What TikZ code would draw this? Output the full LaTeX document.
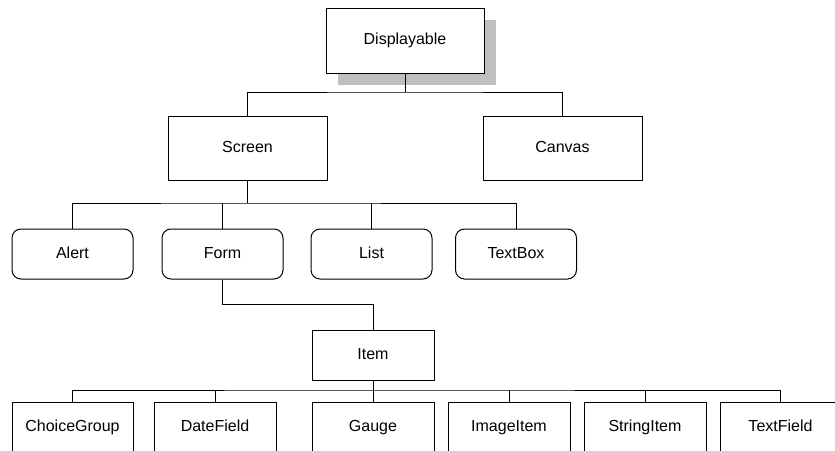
\documentclass[tikz,border=0pt]{standalone}
\usepackage{fontspec}
\setmainfont{Liberation Sans}
\usetikzlibrary{shadows}
\begin{document}
\begin{tikzpicture}[x=1pt,y=-1pt,
  every node/.style={font=\fontsize{16}{19}\selectfont,text height=11.5pt,text depth=3.5pt},
  sqbox/.style={draw,fill=white,line width=1pt,minimum width=#1,inner sep=0pt,minimum height=50},
  sqbox/.default=122,
  rbox/.style={sqbox=121,rounded corners=9pt},
  conn/.style={line width=1pt}]
\useasboundingbox (0,0) rectangle (835,450);
\clip (0,0) rectangle (835,450);
% nodes
\node[sqbox=158,minimum height=65,drop shadow={shadow xshift=12pt,shadow yshift=-12pt,fill=black!25,opacity=1}] (disp) at (405,40.5) {Displayable};
\node[sqbox=159,minimum height=64] (screen) at (247.5,148) {Screen};
\node[sqbox=159,minimum height=64] (canvas) at (562.5,148) {Canvas};
\node[rbox] (alert) at (72.5,254) {Alert};
\node[rbox] (form) at (222.5,254) {Form};
\node[rbox] (list) at (371.5,254) {List};
\node[rbox] (textbox) at (516,254) {TextBox};
\node[sqbox] (item) at (373,355) {Item};
\node[sqbox=121] (choice) at (72.5,427) {ChoiceGroup};
\node[sqbox] (date) at (215,427) {DateField};
\node[sqbox] (gauge) at (373,427) {Gauge};
\node[sqbox] (image) at (509,427) {ImageItem};
\node[sqbox] (string) at (645,427) {StringItem};
\node[sqbox=121] (textfield) at (780.5,427) {TextField};
% connectors
\coordinate (b1) at (405,92);
\draw[conn] (disp.south) -- (b1);
\draw[conn] (screen.north) |- (b1) -| (canvas.north);
\coordinate (b2) at (247.5,203);
\draw[conn] (screen.south) -- (b2);
\draw[conn] (alert.north) |- (b2) -| (textbox.north);
\draw[conn] (form.north) -- (form.north |- b2);
\draw[conn] (list.north) -- (list.north |- b2);
\coordinate (b3) at (222.5,304);
\draw[conn] (form.south) -- (b3) -| (item.north);
\coordinate (b4) at (373,390);
\draw[conn] (item.south) -- (b4);
\draw[conn] (choice.north) |- (b4) -| (textfield.north);
\draw[conn] (date.north) -- (date.north |- b4);
\draw[conn] (gauge.north) -- (gauge.north |- b4);
\draw[conn] (image.north) -- (image.north |- b4);
\draw[conn] (string.north) -- (string.north |- b4);
\end{tikzpicture}
\end{document}
